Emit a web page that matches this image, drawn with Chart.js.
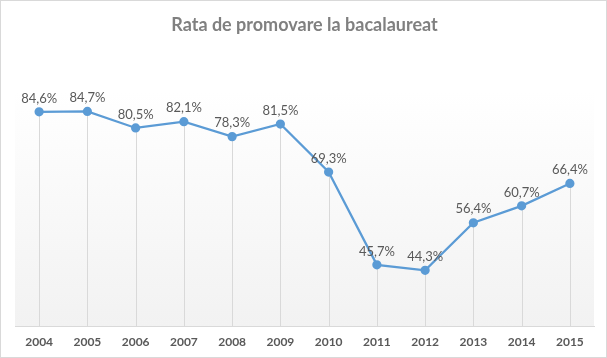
<!DOCTYPE html>
<html>
<head>
<meta charset="utf-8">
<script src="https://cdn.jsdelivr.net/npm/chart.js@4"></script>
<style>
  html, body { margin: 0; padding: 0; background: #fff; }
  #wrap { position: relative; width: 607px; height: 358px; box-sizing: border-box; border: 1px solid #d9d9d9; background: #fff; }
  canvas { display: block; }
</style>
</head>
<body>
<div id="wrap"><canvas id="c" width="605" height="356"></canvas></div>
<script>
const categories = ["2004","2005","2006","2007","2008","2009","2010","2011","2012","2013","2014","2015"];
const rates = [84.6, 84.7, 80.5, 82.1, 78.3, 81.5, 69.3, 45.7, 44.3, 56.4, 60.7, 66.4];
const chartTitle = "Rata de promovare la bacalaureat";
const yMin = 30, yMax = 90;

const FONT = "Lato, 'Open Sans', sans-serif";

const bgPlugin = {
  id: 'plotBg',
  beforeDraw(chart) {
    const {ctx, chartArea: a} = chart;
    const g = ctx.createLinearGradient(0, a.top, 0, a.bottom);
    g.addColorStop(0, '#ffffff');
    g.addColorStop(1, '#f2f2f2');
    ctx.save();
    ctx.fillStyle = g;
    ctx.fillRect(a.left, a.top, a.right - a.left, a.bottom - a.top);
    ctx.restore();
  }
};

const dropLines = {
  id: 'dropLines',
  beforeDatasetsDraw(chart) {
    const {ctx, chartArea: a} = chart;
    const meta = chart.getDatasetMeta(0);
    ctx.save();
    ctx.strokeStyle = '#d9d9d9';
    ctx.lineWidth = 1;
    meta.data.forEach(p => {
      const x = Math.round(p.x) + 0.5;
      ctx.beginPath();
      ctx.moveTo(x, p.y);
      ctx.lineTo(x, a.bottom);
      ctx.stroke();
    });
    ctx.restore();
  }
};

const labelsPlugin = {
  id: 'valueLabels',
  afterDatasetsDraw(chart) {
    const {ctx} = chart;
    const meta = chart.getDatasetMeta(0);
    ctx.save();
    ctx.fillStyle = '#595959';
    ctx.font = "13px " + FONT;
    ctx.textAlign = 'center';
    ctx.textBaseline = 'bottom';
    meta.data.forEach((p, i) => {
      const txt = rates[i].toFixed(1).replace('.', ',') + '%';
      ctx.fillText(txt, p.x, p.y - 7);
    });
    ctx.restore();
  }
};

new Chart(document.getElementById('c'), {
  type: 'line',
  data: {
    labels: categories,
    datasets: [{
      data: rates,
      borderColor: '#5b9bd5',
      backgroundColor: '#5b9bd5',
      borderWidth: 2.25,
      pointRadius: 3.5,
      pointHoverRadius: 3.5,
      pointBackgroundColor: '#5b9bd5',
      pointBorderColor: '#5b9bd5',
      tension: 0,
      fill: false
    }]
  },
  options: {
    responsive: false,
    animation: false,
    events: [],
    layout: { padding: { left: 14, right: 12, top: 0, bottom: 0 } },
    plugins: {
      legend: { display: false },
      tooltip: { enabled: false },
      title: {
        display: true,
        text: chartTitle,
        color: '#808080',
        font: { family: FONT, size: 18, weight: 'bold' },
        padding: { top: 13, bottom: 55 }
      }
    },
    scales: {
      x: {
        offset: true,
        grid: { display: false, drawTicks: false },
        border: { display: true, color: '#d9d9d9', width: 1 },
        ticks: { color: '#595959', font: { family: FONT, size: 12, weight: 'bold' }, padding: 8, maxRotation: 0 }
      },
      y: {
        display: false,
        min: yMin,
        max: yMax
      }
    }
  },
  plugins: [bgPlugin, dropLines, labelsPlugin]
});
</script>
</body>
</html>
